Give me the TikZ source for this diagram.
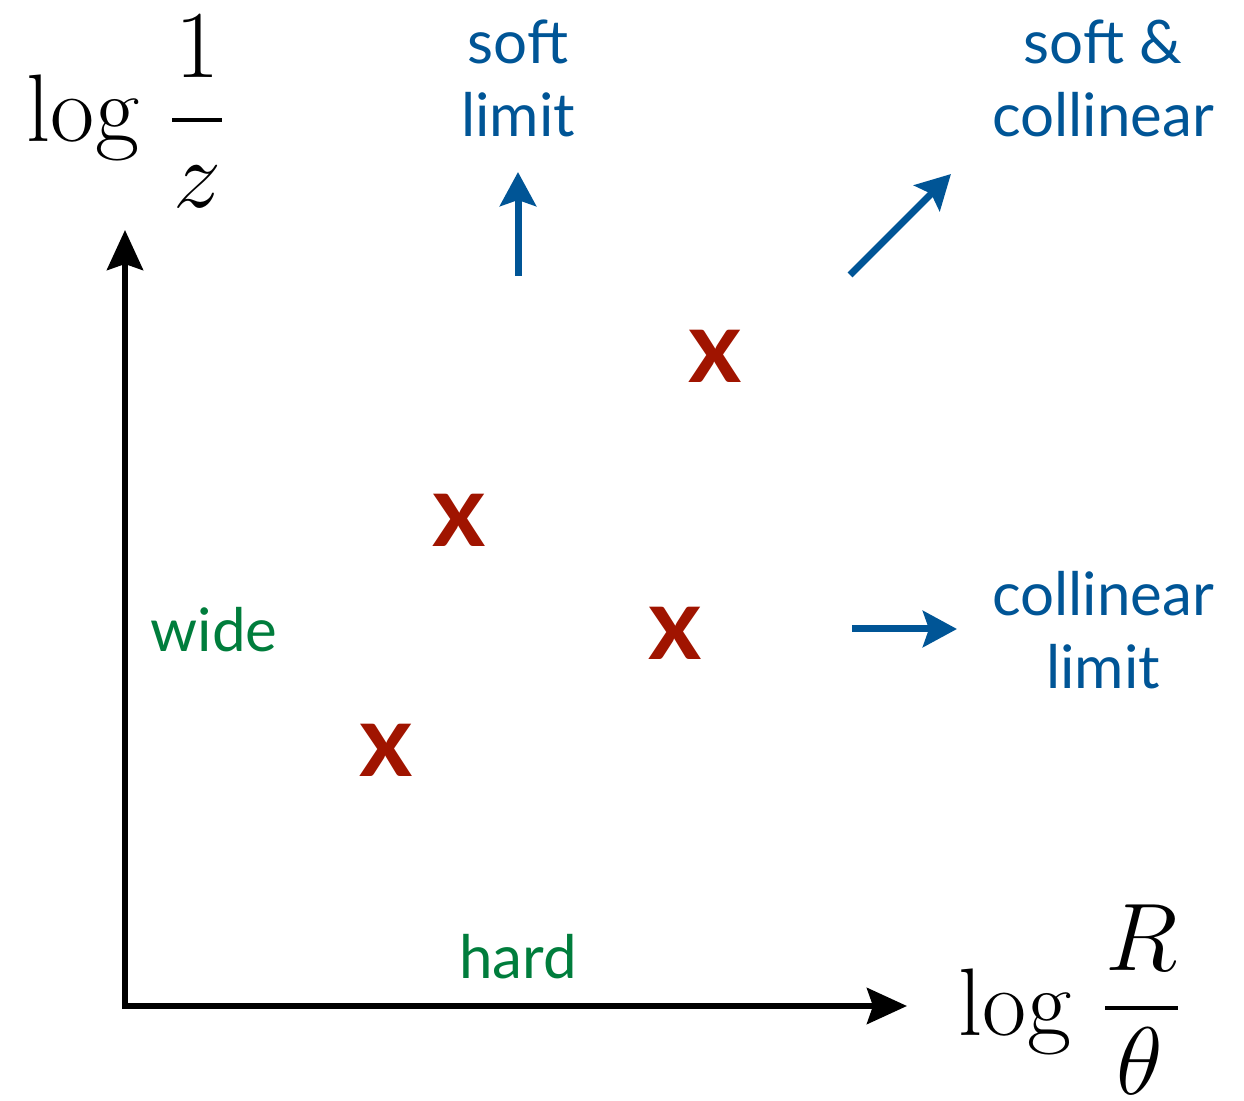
\RequirePackage{fix-cm}
\documentclass[tikz,border=0pt]{standalone}
\usepackage{fontspec}
\setsansfont{Lato}
\usetikzlibrary{arrows.meta}
\definecolor{myblue}{RGB}{0,85,150}
\definecolor{myred}{RGB}{160,20,0}
\definecolor{mygreen}{RGB}{0,125,60}
\tikzset{
  axis/.style={line width=3pt,-{Stealth[length=20pt,width=18pt,inset=3pt]}},
  limarrow/.style={line width=3.5pt,myblue,-{Stealth[length=17pt,width=18pt,inset=3pt]}},
  bluelab/.style={text=myblue,font=\sffamily\fontsize{30}{36.5}\selectfont,align=center,inner sep=0pt},
  greenlab/.style={text=mygreen,font=\sffamily\fontsize{30}{36.5}\selectfont,inner sep=0pt},
  cross/.style={text=myred,font=\sffamily\bfseries\fontsize{51}{51}\selectfont,inner sep=0pt},
  mathlab/.style={font=\rmfamily\fontsize{48}{56}\selectfont,inner sep=0pt},
  fracbar/.style={line width=2pt}
}
\begin{document}
\begin{tikzpicture}[x=0.5pt,y=-0.5pt]
\useasboundingbox (0,0) rectangle (1244,1101);
% axes
\coordinate (O) at (125,1006);
\coordinate (ytip) at (125,230);
\coordinate (xtip) at (907,1006);
\draw[axis] (125,1009) -- (ytip);
\draw[axis] (122,1006) -- (xtip);
% y axis label
\node[mathlab,anchor=base] (ylog) at (83,142) {log};
\node[mathlab,anchor=base] (ynum) at (198,78) {$1$};
\node[mathlab,anchor=base] (yden) at (197,208) {$z$};
\coordinate (yb1) at (172,120);
\coordinate (yb2) at (222,120);
\draw[fracbar] (yb1) -- (yb2);
% x axis label
\node[mathlab,anchor=base] (xlog) at (1015,1035) {log};
\node[mathlab,anchor=base] (xnum) at (1142,970) {$R$};
\node[mathlab,anchor=base] (xden) at (1140,1094) {$\theta$};
\coordinate (xb1) at (1105,1008);
\coordinate (xb2) at (1178,1008);
\draw[fracbar] (xb1) -- (xb2);
% blue labels
\node[bluelab] (soft) at (518,78) {soft\\limit};
\node[bluelab] (sc) at (1103,78) {soft \&\\collinear};
\node[bluelab] (coll) at (1103,630) {collinear\\limit};
% green labels
\node[greenlab] (wide) at (214,630) {wide};
\node[greenlab] (hard) at (518,957) {hard};
% arrows
\coordinate (a1s) at (518,276);
\coordinate (a1e) at (518,172);
\coordinate (a2s) at (850,275);
\coordinate (a2e) at (951,174);
\coordinate (a3s) at (852,629);
\coordinate (a3e) at (957,629);
\draw[limarrow] (a1s) -- (a1e);
\draw[limarrow] (a2s) -- (a2e);
\draw[limarrow] (a3s) -- (a3e);
% crosses
\node[cross] (x1) at (715,356) {x};
\node[cross] (x2) at (459,520) {x};
\node[cross] (x3) at (675,633) {x};
\node[cross] (x4) at (386,750) {x};
\end{tikzpicture}
\end{document}
